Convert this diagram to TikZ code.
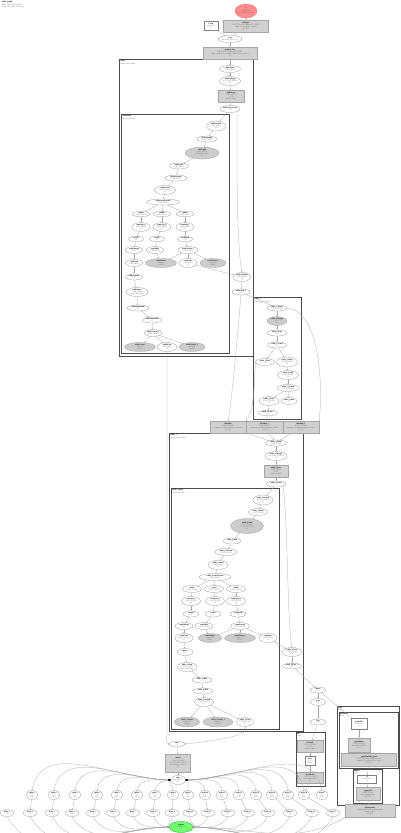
\documentclass[tikz,border=0pt]{standalone}
\usepackage{fontspec}
\setmainfont{Liberation Serif}
\usetikzlibrary{shapes.geometric,arrows.meta}
\newcommand{\NL}[2]{{\color{black}\textbf{#1}}\\#2}
\begin{document}
\begin{tikzpicture}[x=1pt,y=-1pt,
 base/.style={inner sep=0pt,outer sep=0pt,align=center,font=\fontsize{1.9}{2.25}\selectfont,line width=0.25pt,text=black!60},
 we/.style 2 args={base,ellipse,draw=black!45,fill=white,minimum width=#1pt,minimum height=#2pt},
 ge/.style 2 args={base,ellipse,draw=black!40,fill=black!20,minimum width=#1pt,minimum height=#2pt},
 gb/.style 2 args={base,rectangle,draw=black!35,fill=black!18,minimum width=#1pt,minimum height=#2pt},
 wb/.style 2 args={base,rectangle,draw=black!50,fill=white,minimum width=#1pt,minimum height=#2pt},
 clu/.style={draw=black!70,line width=0.8pt},
 cll/.style={base,anchor=north west,align=left},
 ed/.style={draw=black!35,line width=0.25pt,-{Stealth[length=1.3pt,width=1.1pt]}},
 edk/.style={draw=black!35,line width=0.25pt,-{Stealth[length=2pt,width=1.8pt,color=black]}},
 lab/.style={base,font=\fontsize{1.4}{1.6}\selectfont,text=black!60},
]
\useasboundingbox (0,0) rectangle (400,833);
\fill[white] (0,0) rectangle (400,833);

% title
\node[cll] (title) at (2,1.5) {\NL{while\_graph}{name: while\_loop\_model\\nodes: 112 edges: 140 (ops)}};

% clusters
\draw[clu] (119,59) rectangle (253,356);
\node[cll] (cl1) at (120.5,60.5) {\NL{while}{frame\_name=while}};
\draw[clu] (121,114) rectangle (229,353);
\node[cll] (cl1a) at (122.5,115.5) {\NL{while/body}{loop body scope}};
\draw[clu] (253,297) rectangle (301,419);
\node[cll] (cl2) at (254.5,298.5) {\NL{while\_1}{frame\_name=while\_1}};
\draw[clu] (169,433) rectangle (303,731);
\node[cll] (cl3) at (170.5,434.5) {\NL{while\_2}{frame\_name=while\_2}};
\draw[clu] (171,488) rectangle (279,729);
\node[cll] (cl3a) at (172.5,489.5) {\NL{while\_2/body}{loop body scope}};
\draw[clu] (296,732) rectangle (325,786);
\node[cll] (cl4) at (297,733) {\NL{loss}{scope}};
\draw[clu] (337,706) rectangle (399,805);
\node[cll] (cl5) at (338,707) {\NL{train}{scope}};
\draw[clu] (339,712) rectangle (398,768);
\node[cll] (cl5a) at (340,713) {\NL{gradients}{scope}};
\draw[clu] (353,769) rectangle (382,803);
\node[cll] (cl5b) at (354,770) {\NL{update}{scope}};

% top
\node[ge={22}{14},fill=red!45,draw=red!60] (t1) at (246,11) {\NL{x}{Placeholder\\dtype=DT\_FLOAT}};
\node[gb={45}{12}] (t2) at (246,26) {\NL{Reshape}{T=DT\_FLOAT Tshape=DT\_INT32\\shape=[?,10] device=/cpu:0\\(?, 10)}};
\node[wb={14}{9}] (t3) at (211,26) {\NL{Const}{value=[-1]\\(1)}};
\node[we={24}{7}] (t4) at (230,39) {\NL{Cast}{DstT=DT\_INT32 (?)}};
\node[gb={54}{12}] (t5) at (230,53) {\NL{strided\_slice}{T=DT\_INT32 Index=DT\_INT32\\begin\_mask=0 end\_mask=0 shrink\_axis\_mask=1\\(?)}};

% cluster 1
\node[we={21}{7}] (c1a) at (230,69) {\NL{while/Enter}{T=DT\_INT32}};
\node[we={21}{9}] (c1b) at (230,81) {\NL{while/Merge}{N=2 T=DT\_INT32\\(?)}};
\node[gb={26}{12}] (c1c) at (231,96) {\NL{while/Less}{T=DT\_INT32\\y=10\\device=/cpu:0}};
\node[we={20}{7}] (c1d) at (230,109) {\NL{while/LoopCond}{(?)}};
\node[we={19}{10}] (i1) at (216,126) {\NL{while/Switch}{T=DT\_INT32\\(?)}};
\node[we={20}{6}] (i2) at (207,139) {\NL{while/Identity}{T=DT\_INT32}};
\node[ge={34}{12}] (i3) at (202,153) {\NL{while/add}{T=DT\_INT32\\y=1 device=/cpu:0\\(?)}};
\node[we={19}{6}] (i4) at (179,166) {\NL{while/mul}{T=DT\_INT32}};
\node[we={22}{6}] (i5) at (176,178) {\NL{while/Greater}{T=DT\_INT32}};
\node[we={21}{8}] (i6) at (165,190) {\NL{while/cond}{T=DT\_BOOL\\(?)}};
\node[we={33}{6}] (i7) at (163,202) {\NL{while/cond/Switch}{T=DT\_BOOL}};
\foreach \n/\x in {a/141,b/162,c/185}{
 \node[we={18}{5}] (\n1) at (\x,214) {\NL{cond/\n}{T=DT\_INT32}};
 \node[we={18}{8}] (\n2) at (\x,227) {\NL{cond/sub\_\n}{T=DT\_INT32\\(?)}};
}
\node[we={15}{5}] (a3) at (136,239) {\NL{cond/f}{(?)}};
\node[we={15}{5}] (b3) at (157,239) {\NL{cond/t}{(?)}};
\node[we={15}{5}] (c3) at (185,239) {\NL{cond/pred}{(?)}};
\node[we={17}{7}] (a4) at (134,250) {\NL{cond/Merge}{N=2}};
\node[we={17}{7}] (b4) at (155,250) {\NL{cond/Mul}{T=DT\_INT32}};
\node[we={20}{7}] (c4) at (188,250) {\NL{cond/Switch\_1}{T=DT\_INT32}};
\node[we={17}{7}] (d1) at (134,263) {\NL{cond/Add}{T=DT\_INT32}};
\node[ge={31}{9}] (g1) at (161,263) {\NL{cond/Const}{value=2\\(int32)}};
\node[we={18}{9}] (d2) at (188,263) {\NL{cond/Sub}{T=DT\_INT32\\(?)}};
\node[ge={26}{9}] (g2) at (213,263) {\NL{cond/Const\_1}{value=3\\(int32)}};
\node[we={17}{6}] (i8) at (134,277) {\NL{while/Square}{(?)}};
\node[we={22}{9}] (i9) at (137,292) {\NL{while/Sum}{T=DT\_INT32\\keep\_dims=false}};
\node[we={22}{6}] (i10) at (138,308) {\NL{while/Maximum}{(?)}};
\node[we={19}{6}] (i11) at (152,320) {\NL{while/Minimum}{(?)}};
\node[we={17}{7}] (i12) at (153,333) {\NL{while/Switch\_1}{T=DT\_INT32}};
\node[ge={31}{9}] (g3) at (140,347) {\NL{while/Const}{value=0\\(int32)}};
\node[we={20}{9}] (w1) at (167,347) {\NL{while/Exit}{T=DT\_INT32\\(?)}};
\node[ge={26}{9}] (g4) at (192,347) {\NL{while/Const\_1}{value=1\\(int32)}};
\node[we={18}{9}] (c1e) at (242,277) {\NL{while/NextIter}{T=DT\_INT32\\(?)}};
\node[we={18}{6}] (c1f) at (241,292) {\NL{while/Exit\_1}{(?)}};

% cluster 2
\node[we={20}{6}] (k1) at (277,308) {\NL{while\_1/Enter}{T=DT\_FLOAT}};
\node[ge={20}{8}] (k2) at (277,321) {\NL{while\_1/Merge}{N=2\\(?)}};
\node[we={20}{6}] (k3) at (277,333) {\NL{while\_1/Less}{(?)}};
\node[we={19}{6}] (k4) at (277,345) {\NL{while\_1/Cond}{(?)}};
\node[we={19}{7}] (k5) at (265,362) {\NL{while\_1/Exit}{(?)}};
\node[we={21}{10}] (k6) at (287,362) {\NL{while\_1/Ident}{T=DT\_FLOAT\\(?)}};
\node[we={21}{8}] (k7) at (288,375) {\NL{while\_1/add}{T=DT\_FLOAT\\(?)}};
\node[we={21}{7}] (k8) at (288,388) {\NL{while\_1/Switch}{T=DT\_FLOAT}};
\node[we={20}{8}] (k9) at (269,401) {\NL{while\_1/Next}{T=DT\_FLOAT\\(?)}};
\node[we={16}{7}] (k10) at (289,401) {\NL{while\_1/mul}{(?)}};
\node[we={19}{5}] (k11) at (268,413) {\NL{while\_1/Exit\_1}{(?)}};

% grey boxes row
\node[gb={36}{12}] (gb1) at (228,427) {\NL{MatMul}{T=DT\_FLOAT\\transpose\_a=false transpose\_b=false\\(?, 10)}};
\node[gb={37}{12}] (gb2) at (264.5,427) {\NL{MatMul\_1}{T=DT\_FLOAT\\transpose\_a=false transpose\_b=false\\(?, 10)}};
\node[gb={36}{12}] (gb3) at (301,427) {\NL{MatMul\_2}{T=DT\_FLOAT\\transpose\_a=false transpose\_b=false\\(?, 10)}};

% cluster 3
\node[we={21}{6}] (m1) at (276,443) {\NL{while\_2/Enter}{T=DT\_FLOAT}};
\node[we={20}{9}] (m2) at (276,456) {\NL{while\_2/Merge}{N=2 T=DT\_FLOAT\\(?)}};
\node[gb={24}{12}] (m3) at (276,471) {\NL{while\_2/Less}{T=DT\_INT32\\y=10\\device=/cpu:0}};
\node[we={20}{6}] (m4) at (276,484) {\NL{while\_2/Cond}{(?)}};
\node[we={20}{10}] (j1) at (263,500) {\NL{while\_2/Switch}{T=DT\_FLOAT\\(?)}};
\node[we={19}{7}] (j2) at (258,512) {\NL{while\_2/Ident}{T=DT\_FLOAT}};
\node[ge={33}{15}] (j3) at (247,526) {\NL{while\_2/add}{T=DT\_FLOAT\\y=1 device=/cpu:0\\(?)}};
\node[we={18}{6}] (j4) at (232,541) {\NL{while\_2/mul}{(?)}};
\node[we={22}{7}] (j5) at (226,552) {\NL{while\_2/Greater}{T=DT\_FLOAT}};
\node[we={20}{9}] (j6) at (218,565) {\NL{while\_2/cond}{T=DT\_BOOL\\(?)}};
\node[we={32}{7}] (j7) at (215,577) {\NL{while\_2/cond/Switch}{T=DT\_BOOL}};
\foreach \n/\x in {e/192,f/214,h/236}{
 \node[we={19}{7}] (\n1) at (\x,589) {\NL{cond/\n}{T=DT\_FLOAT}};
}
\node[we={19}{9}] (e2) at (191,601) {\NL{cond/sub\_e}{T=DT\_FLOAT\\(?)}};
\node[we={19}{9}] (f2) at (215,601) {\NL{cond/sub\_f}{T=DT\_FLOAT\\(?)}};
\node[we={19}{9}] (h2) at (236,601) {\NL{cond/sub\_h}{T=DT\_FLOAT\\(?)}};
\node[we={16}{6}] (e3) at (191,614) {\NL{cond/f}{(?)}};
\node[we={16}{6}] (f3) at (213,614) {\NL{cond/t}{(?)}};
\node[we={16}{6}] (h3) at (238,614) {\NL{cond/pred}{(?)}};
\node[we={18}{7}] (e4) at (184,626) {\NL{cond/Merge}{N=2}};
\node[we={18}{7}] (f4) at (204,626) {\NL{cond/Mul}{T=DT\_FLOAT}};
\node[we={19}{7}] (h4) at (240,626) {\NL{cond/Switch}{T=DT\_FLOAT}};
\node[we={18}{9}] (q1) at (184,638) {\NL{cond/Add}{T=DT\_FLOAT\\(?)}};
\node[ge={23}{9}] (q2) at (210,638) {\NL{cond/Const}{value=2.0\\(float)}};
\node[ge={31}{9}] (q3) at (240,638) {\NL{cond/Const\_1}{value=3.0\\(float)}};
\node[we={18}{9}] (q4) at (268,638) {\NL{cond/Sub}{T=DT\_FLOAT\\(?)}};
\node[we={16}{7}] (j8) at (185,652) {\NL{Square}{(?)}};
\node[we={20}{9}] (j9) at (187,667) {\NL{while\_2/Sum}{T=DT\_FLOAT\\keep\_dims=false}};
\node[we={20}{6}] (j10) at (202,680) {\NL{while\_2/Max}{(?)}};
\node[we={20}{6}] (j11) at (203,691) {\NL{while\_2/Min}{(?)}};
\node[we={19}{8}] (j12) at (204,702) {\NL{while\_2/Switch}{T=DT\_FLOAT\\(?)}};
\node[ge={25}{10}] (q5) at (187,722) {\NL{while\_2/Const}{value=0.0\\(float)}};
\node[ge={30}{10}] (q6) at (218,722) {\NL{while\_2/Const\_1}{value=1.0\\(float)}};
\node[we={17}{8}] (q7) at (245,722) {\NL{while\_2/Exit}{T=DT\_FLOAT\\(?)}};
\node[we={20}{9}] (p1) at (292,652) {\NL{while\_2/Next}{T=DT\_FLOAT\\(?)}};
\node[we={19}{5}] (p2) at (292,666) {\NL{while\_2/Exit\_1}{(?)}};

% right side
\node[we={15}{6}] (s1) at (318,690) {\NL{Mean}{(?)}};
\node[we={15}{7}] (s2) at (318,702) {\NL{Sqrt}{(?)}};
\node[we={15}{6}] (s3) at (318,722) {\NL{Neg}{(?)}};
\node[gb={26}{12}] (x1) at (310,746) {\NL{loss/sub}{T=DT\_FLOAT\\(?, 10)\\device=/cpu:0}};
\node[wb={10}{9}] (x2) at (310,761) {\NL{loss/y}{(?)\\float}};
\node[gb={26}{11}] (x3) at (310,778) {\NL{loss/Mean}{T=DT\_FLOAT\\keep\_dims=false\\()}};
\node[wb={16}{11}] (y1) at (359,724) {\NL{grad/Fill}{value=1.0\\()}};
\node[gb={22}{14}] (y2) at (359,745) {\NL{grad/Mean}{T=DT\_FLOAT\\Tmultiples=INT32\\(?, 10)}};
\node[gb={55}{13}] (y3) at (369,760) {\NL{grad/MatMul\_grad}{T=DT\_FLOAT transpose\_a=true\\transpose\_b=false device=/cpu:0\\(10, 10)}};
\node[wb={19}{8}] (z1) at (367,779) {\NL{lr}{value=0.01\\()}};
\node[gb={24}{13}] (z2) at (368,794) {\NL{ApplyGD}{T=DT\_FLOAT\\use\_locking=false\\(10, 10)}};
\node[gb={50}{13}] (zz) at (370,811) {\NL{train/update}{T=DT\_FLOAT use\_locking=false\\device=/cpu:0\\(10, 10)}};

% bottom
\node[we={15}{6}] (u1) at (177,744) {\NL{add}{(?)}};
\node[gb={25}{18}] (u2) at (178,763) {\NL{concat}{T=DT\_FLOAT\\N=3 Tidx=DT\_INT32\\axis=0 device=/cpu:0\\(?)}};
\node[we={14}{9}] (H) at (178,780) {\NL{split}{num\_split=17\\(?)}};
\foreach \x [count=\i] in {32,54,75,97,117,137,155,173,188,205,222,239,256,272,288,304,322}{
 \node[we={12}{9}] (ra\i) at (\x,795) {\NL{split:\i}{(?)\\float}};
}
\foreach \x [count=\i] in {7,30,52,72,93,113,133,153,172,190,208,228,248,268,290,312,333}{
 \node[we={14}{7}] (rb\i) at (\x,813) {\NL{Relu\_\i}{(?)}};
}
\node[ge={24}{11},fill=green!55,draw=green!60!black] (G) at (181,827) {\NL{output}{AddN N=17\\(?)}};

% ---------------- edges ----------------
\draw[ed] (t1) -- (t2);
\draw[ed] (t2) -- (t4);
\draw[ed] (t3) -- (t4);
\draw[ed] (t4) -- (t5);
\draw[ed] (t5) -- (c1a);
\draw[ed] (c1a) -- (c1b);
\draw[ed] (c1b) -- (c1c);
\draw[ed] (c1c) -- (c1d);
\draw[ed] (c1d) -- (i1);
\draw[ed] (c1d.south east) .. controls (237,150) and (236,240) .. (c1e.north);
\draw[ed] (i1) -- (i2);
\draw[ed] (i2) -- (i3);
\draw[ed] (i3) -- (i4);
\draw[ed] (i4) -- (i5);
\draw[ed] (i5) -- (i6);
\draw[ed] (i6) -- (i7);
\draw[ed] (i7) -- node[lab,pos=0.35,above left=-0.5pt]{F} (a1);
\draw[ed] (i7) -- (b1);
\draw[ed] (i7) -- node[lab,pos=0.35,above right=-0.5pt]{T} (c1);
\foreach \n in {a,b,c}{
 \draw[ed] (\n1) -- (\n2);
 \draw[ed] (\n2) -- (\n3);
 \draw[ed] (\n3) -- (\n4);
}
\draw[ed] (a4) -- (d1);
\draw[ed] (b4) -- (g1);
\draw[ed] (c4) -- node[lab,pos=0.3,left]{F} (g1);
\draw[ed] (c4) -- (d2);
\draw[ed] (c4) -- node[lab,pos=0.3,right]{T} (g2);
\draw[ed] (d2) -- (c1e);
\draw[ed] (d1) -- (i8);
\draw[ed] (i8) -- (i9);
\draw[ed] (i9) -- (i10);
\draw[ed] (i10) -- (i11);
\draw[ed] (i11) -- (i12);
\draw[ed] (i12) -- node[lab,pos=0.3,left]{F} (g3);
\draw[ed] (i12) -- (w1);
\draw[ed] (i12) -- node[lab,pos=0.3,right]{T} (g4);
\draw[ed] (c1e) -- (c1f);
\draw[ed] (c1f) -- (k1);
\draw[ed] (c1f.south) .. controls (238,330) and (232,400) .. (gb1.north);
\draw[ed] (w1.south) -- (167,734) to[out=-90,in=180] (u1.west);

\draw[ed] (k1) -- (k2);
\draw[ed] (k2) -- (k3);
\draw[ed] (k3) -- (k4);
\draw[ed] (k4) -- node[lab,pos=0.4,left]{F} (k5);
\draw[ed] (k4) -- node[lab,pos=0.4,right]{T} (k6);
\draw[ed] (k6) -- (k7);
\draw[ed] (k7) -- (k8);
\draw[ed] (k8) -- (k9);
\draw[ed] (k8) -- (k10);
\draw[ed] (k9) -- (k11);
\draw[ed] (k5.west) .. controls (254,380) and (255,410) .. (gb1.north east);
\draw[ed] (k1.east) .. controls (324,312) and (322,400) .. (gb3.north east);
\draw[ed] (k11) -- (gb2);

\draw[ed] (gb1) -- (m1);
\draw[ed] (gb2) -- (m1);
\draw[ed] (gb3) -- (m1);
\draw[ed] (m1) -- (m2);
\draw[ed] (m2) -- (m3);
\draw[ed] (m3) -- (m4);
\draw[ed] (m4) -- (j1);
\draw[ed] (m4.south east) .. controls (288,520) and (287,620) .. (p1.north);
\draw[ed] (j1) -- (j2);
\draw[ed] (j2) -- (j3);
\draw[ed] (j3) -- (j4);
\draw[ed] (j4) -- (j5);
\draw[ed] (j5) -- (j6);
\draw[ed] (j6) -- (j7);
\draw[ed] (j7) -- node[lab,pos=0.35,above left=-0.5pt]{F} (e1);
\draw[ed] (j7) -- (f1);
\draw[ed] (j7) -- node[lab,pos=0.35,above right=-0.5pt]{T} (h1);
\foreach \n in {e,f,h}{
 \draw[ed] (\n1) -- (\n2);
 \draw[ed] (\n2) -- (\n3);
 \draw[ed] (\n3) -- (\n4);
}
\draw[ed] (e4) -- (q1);
\draw[ed] (f4) -- (q2);
\draw[ed] (h4) -- node[lab,pos=0.3,left]{F} (q2);
\draw[ed] (h4) -- (q3);
\draw[ed] (h4) -- node[lab,pos=0.3,right]{T} (q4);
\draw[ed] (q4) -- (p1);
\draw[ed] (q1) -- (j8);
\draw[ed] (j8) -- (j9);
\draw[ed] (j9) -- (j10);
\draw[ed] (j10) -- (j11);
\draw[ed] (j11) -- (j12);
\draw[ed] (j12) -- node[lab,pos=0.3,left]{F} (q5);
\draw[ed] (j12) -- (q6);
\draw[ed] (j12) -- node[lab,pos=0.3,right]{T} (q7);
\draw[ed] (q7.south) .. controls (255,736) and (205,742) .. (u1.east);
\draw[ed] (p1) -- (p2);
\draw[ed] (p2) -- (s1);
\draw[ed] (s1) -- (s2);
\draw[ed] (s2) -- (s3);
\draw[ed] (s3) -- (x1);
\draw[ed] (s1) -- (y1);
\draw[ed] (x1) -- (x2);
\draw[ed] (x2) -- (x3);
\draw[ed] (x3) -- (ra16);
\draw[ed] (y1) -- (y2);
\draw[ed] (y2) -- (y3);
\draw[ed] (y3) -- (z1);
\draw[ed] (z1) -- (z2);
\draw[ed] (z2) -- (zz);

\draw[ed] (u1) -- (u2);
\draw[ed] (u2) -- (H);
\foreach \i in {1,...,8}{
 \draw[edk] (ra\i.north) to[out=80,in=180] (H.west);
}
\foreach \i in {9,...,17}{
 \draw[edk] (ra\i.north) to[out=100,in=0] (H.east);
}
\foreach \i [evaluate=\i as \j using int(\i+1)] in {1,...,16}{
 \draw[ed] (ra\i) -- (rb\j);
}
\foreach \i in {1,...,9}{
 \draw[ed] (rb\i.south) to[out=-60,in=180] (G.west);
}
\foreach \i in {10,...,17}{
 \draw[ed] (rb\i.south) to[out=-120,in=0] (G.east);
}
\draw[ed] (zz.south west) to[out=-150,in=0] (G.east);
\end{tikzpicture}
\end{document}
